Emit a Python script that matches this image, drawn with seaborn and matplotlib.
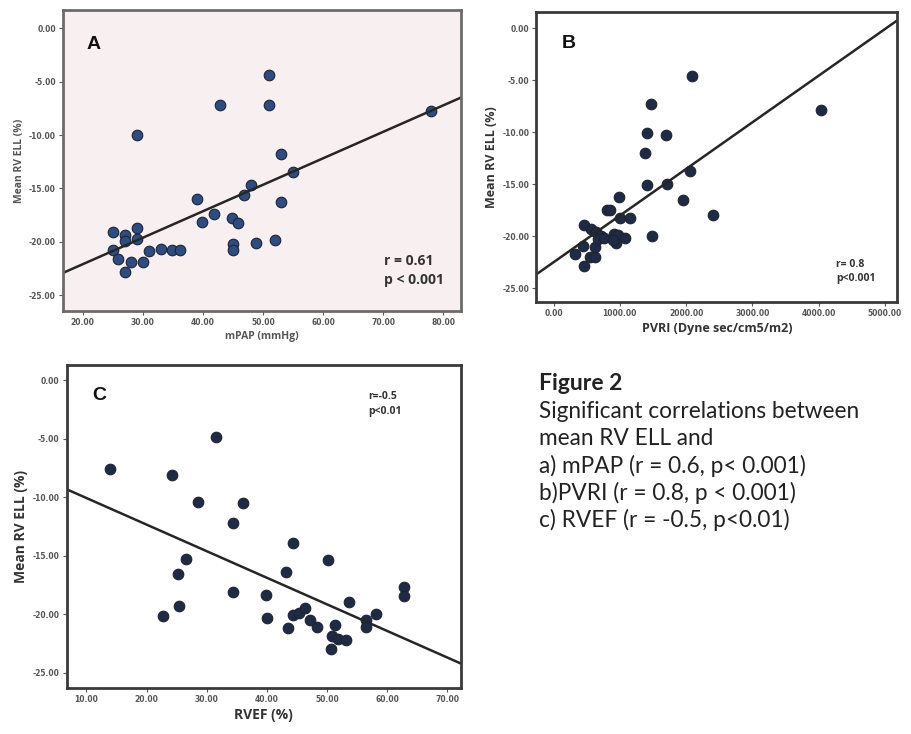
import seaborn as sns
import matplotlib.pyplot as plt
import pandas as pd
import numpy as np

# Panel A: mPAP vs mean RV ELL
mpap = [50.9, 42.9, 50.9, 77.9, 29.0, 52.9, 54.9, 48.0, 46.9, 39.0, 52.9,
        41.9, 39.9, 44.8, 45.9, 25.0, 29.0, 27.1, 27.1, 29.0, 25.0, 25.9,
        28.1, 30.0, 27.1, 31.1, 33.0, 34.9, 36.1, 45.0, 45.0, 48.9, 51.9]
ell_a = [-4.4, -7.2, -7.2, -7.7, -10.0, -11.8, -13.5, -14.7, -15.6, -16.0, -16.3,
         -17.4, -18.1, -17.8, -18.2, -19.1, -18.7, -19.4, -19.9, -19.7, -20.8, -21.6,
         -21.9, -21.9, -22.8, -20.9, -20.7, -20.8, -20.8, -20.2, -20.8, -20.1, -19.8]

# Panel B: PVRI vs mean RV ELL
pvri = [2091, 4038, 1463, 1415, 1691, 1381, 1415, 1705, 2053, 1946, 2405, 1478,
        980, 802, 850, 1005, 1150, 464, 570, 642, 715, 908, 971, 1077, 947, 618,
        449, 319, 546, 618, 464, 667, 763, 893]
ell_b = [-4.6, -7.9, -7.3, -10.1, -10.3, -12.0, -15.1, -15.0, -13.7, -16.5, -18.0, -20.0,
         -16.2, -17.5, -17.5, -18.2, -18.2, -18.9, -19.3, -19.6, -20.0, -19.8, -19.9, -20.2, -20.7, -21.0,
         -20.9, -21.7, -22.0, -22.0, -22.9, -20.3, -20.2, -20.4]

# Panel C: RVEF vs mean RV ELL
rvef = [31.6, 13.9, 24.3, 28.5, 36.1, 34.4, 44.3, 26.5, 50.1, 25.2, 43.1, 34.4,
        39.9, 25.4, 22.8, 40.0, 62.8, 62.8, 53.7, 58.2, 56.5, 56.5, 43.5, 44.3,
        45.3, 46.4, 47.2, 48.3, 51.4, 50.8, 51.9, 53.2, 50.6]
ell_c = [-4.9, -7.6, -8.1, -10.4, -10.5, -12.2, -13.9, -15.3, -15.4, -16.6, -16.4, -18.1,
         -18.4, -19.3, -20.2, -20.3, -17.7, -18.5, -19.0, -20.0, -20.5, -21.1, -21.2, -20.1,
         -19.9, -19.5, -20.5, -21.1, -20.9, -21.9, -22.1, -22.2, -23.0]

sns.set_style("white")

fig = plt.figure(figsize=(9.12, 7.34), dpi=100)
ax_a = fig.add_axes([0.069, 0.576, 0.437, 0.410])
ax_b = fig.add_axes([0.588, 0.589, 0.396, 0.395])
ax_c = fig.add_axes([0.073, 0.063, 0.432, 0.440])

tick_font = dict(fontsize=5.5, color="#555555", fontweight="bold")


def panel(ax, x, y, xlim, ylim, xticks, face, spine_col, pt_col, xlabel, lab_kw):
    ax.set_facecolor(face)
    ax.set_xlim(xlim)
    ax.set_ylim(ylim)
    df = pd.DataFrame({"x": x, "y": y})
    sns.regplot(data=df, x="x", y="y", ax=ax, ci=None, truncate=False,
                scatter_kws=dict(s=58, color=pt_col, edgecolor="#1c2333",
                                 linewidths=0.8, alpha=1),
                line_kws=dict(color="#262626", lw=1.8))
    ax.set_xlim(xlim)
    ax.set_ylim(ylim)
    ax.set_xticks(xticks)
    ax.set_yticks([0, -5, -10, -15, -20, -25])
    ax.set_xticklabels([f"{v:.2f}" for v in xticks], **tick_font)
    ax.set_yticklabels([f"{v:.2f}" for v in [0, -5, -10, -15, -20, -25]], **tick_font)
    ax.tick_params(length=3, width=0.8, color="#555555", pad=2, left=True, bottom=True)
    for s in ax.spines.values():
        s.set_color(spine_col)
        s.set_linewidth(2)
    ax.set_xlabel(xlabel, labelpad=3, **lab_kw)
    ax.set_ylabel("Mean RV ELL (%)", labelpad=3, **lab_kw)


panel(ax_a, mpap, ell_a, (16.7, 83.0), (-26.5, 1.7), [20, 30, 40, 50, 60, 70, 80],
      "#f8eff1", "#6b6b6b", "#2f4c80", "mPAP (mmHg)",
      dict(fontsize=7.5, color="#555555", fontweight="bold", family="Open Sans"))
panel(ax_b, pvri, ell_b, (-261, 5188), (-26.3, 1.6), [0, 1000, 2000, 3000, 4000, 5000],
      "white", "#3a3a3a", "#1f2a44", "PVRI (Dyne sec/cm5/m2)",
      dict(fontsize=9, color="#333333", fontweight="bold", family="Open Sans"))
panel(ax_c, rvef, ell_c, (6.7, 72.2), (-26.3, 1.3), [10, 20, 30, 40, 50, 60, 70],
      "white", "#3a3a3a", "#1f2a44", "RVEF (%)",
      dict(fontsize=10, color="#333333", fontweight="bold", family="Open Sans"))

# panel letters and stats
letter = dict(fontsize=14, fontweight="bold", family="Liberation Sans", color="#111111",
              va="center", ha="left")
ax_a.text(0.06, 0.885, "A", transform=ax_a.transAxes, **letter)
ax_b.text(0.07, 0.89, "B", transform=ax_b.transAxes, **letter)
ax_c.text(0.065, 0.905, "C", transform=ax_c.transAxes, **letter)

stat = dict(fontweight="bold", family="Open Sans", color="#333333", ha="left", va="center")
ax_a.text(0.805, 0.135, "r = 0.61\np < 0.001", transform=ax_a.transAxes,
          fontsize=10, linespacing=1.5, **stat)
ax_b.text(0.83, 0.105, "r= 0.8\np<0.001", transform=ax_b.transAxes,
          fontsize=7.5, linespacing=1.4, **stat)
ax_c.text(0.765, 0.88, "r=-0.5\np<0.01", transform=ax_c.transAxes,
          fontsize=7.5, linespacing=1.5, **stat)

# caption on the right
cap = dict(family="Lato", color="#222222", ha="left", va="center")
fig.text(0.591, 0.478, "Figure 2", fontsize=16.5, fontweight="bold", **cap)
lines = ["Significant correlations between", "mean RV ELL and",
         "a) mPAP (r = 0.6, p< 0.001)", "b)PVRI (r = 0.8, p < 0.001)",
         "c) RVEF (r = -0.5, p<0.01)"]
for i, t in enumerate(lines):
    fig.text(0.591, 0.439 - i * 0.0368, t, fontsize=16.3, **cap)

plt.savefig("out.png", dpi=100)
